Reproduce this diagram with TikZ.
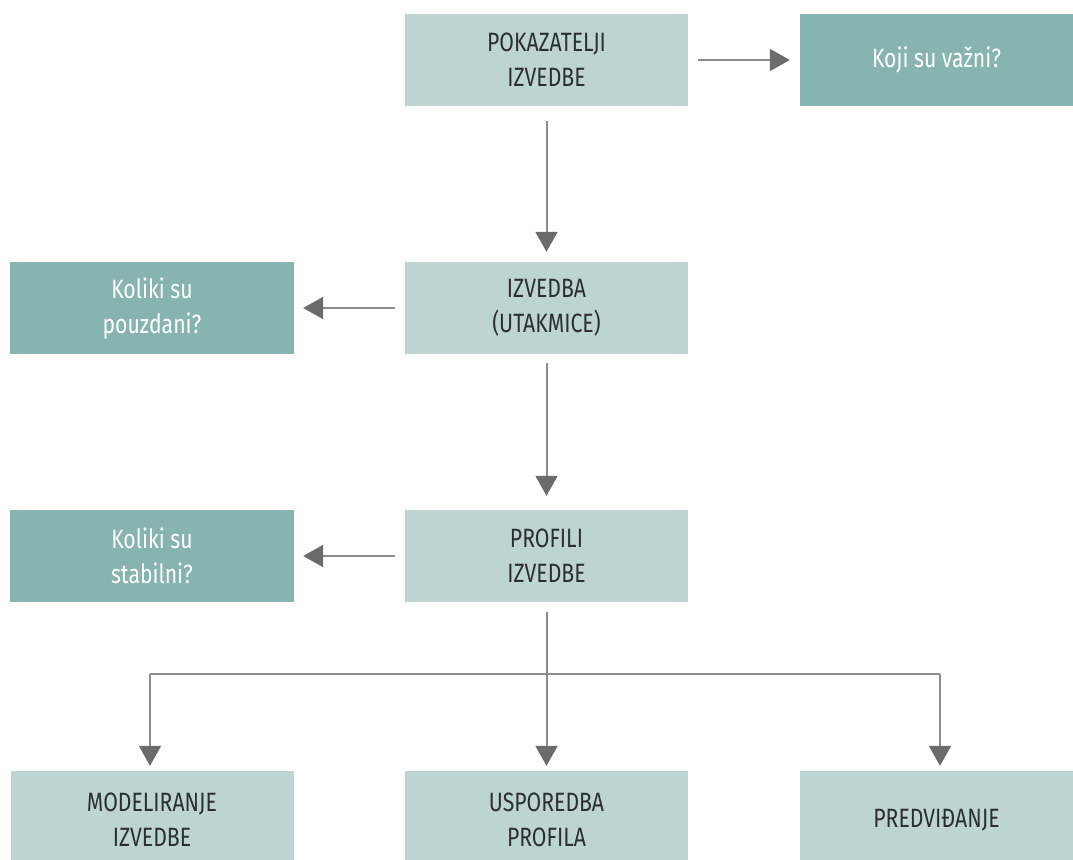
\documentclass[tikz,border=0pt]{standalone}
\usepackage{fontspec}
\setmainfont{Fira Sans}[FakeStretch=0.8]
\usetikzlibrary{arrows.meta}
\definecolor{lightbox}{HTML}{BCD5D2}
\definecolor{darkbox}{HTML}{87B3B1}
\definecolor{linegray}{HTML}{8C8C8C}
\definecolor{tipgray}{HTML}{6B6B6B}
\definecolor{txtdark}{HTML}{2E2E2E}
\begin{document}
\begin{tikzpicture}[x=1pt,y=-1pt,
  lbox/.style={fill=lightbox,draw=none,minimum width=283pt,minimum height=92pt,inner sep=0pt,align=center,text=txtdark,font=\fontsize{26.5}{35}\selectfont},
  dbox/.style={fill=darkbox,draw=none,minimum width=284pt,minimum height=92pt,inner sep=0pt,align=center,text=white,font=\fontsize{26.5}{35}\selectfont},
  ltext/.style={align=center,text=txtdark,font=\fontsize{26.5}{35}\selectfont},
  conn/.style={draw=linegray,line width=2pt,-{Triangle[width=22pt,length=20pt,color=tipgray]}},
  plain/.style={draw=linegray,line width=2pt}]
\useasboundingbox (0,0) rectangle (1073,859);
\fill[white] (0,0) rectangle (1073,859);
\node[lbox] (pk) at (546.5,60) {POKAZATELJI\\IZVEDBE};
\node[dbox,minimum width=273pt] (koji) at (936.5,60) {Koji su važni?};
\node[lbox] (iz) at (546.5,308) {IZVEDBA\\(UTAKMICE)};
\node[dbox] (pouz) at (152,308) {Koliki su\\pouzdani?};
\node[lbox] (pr) at (546.5,556) {PROFILI\\IZVEDBE};
\node[dbox] (stab) at (152,556) {Koliki su\\stabilni?};
\begin{scope}
\clip (0,0) rectangle (1073,859);
\node[lbox,minimum height=100pt] (mod) at (152,821) {};
\node[lbox,minimum height=100pt] (usp) at (546.5,821) {};
\node[lbox,minimum width=273pt,minimum height=100pt] (pre) at (936.5,821) {};
\end{scope}
\node[ltext] (modt) at (152,820) {MODELIRANJE\\IZVEDBE};
\node[ltext] (uspt) at (546.5,820) {USPOREDBA\\PROFILA};
\node[ltext] (pret) at (936.5,820) {PREDVIĐANJE};
\coordinate (split) at (546.5,674);
\coordinate (lft) at (150,674);
\coordinate (rgt) at (940,674);
\draw[conn] ([xshift=10pt]pk.east) -- ([xshift=-10pt]koji.west);
\draw[conn] ([yshift=-15pt]pk.south) -- ([yshift=10pt]iz.north);
\draw[conn] ([xshift=-10pt]iz.west) -- ([xshift=9pt]pouz.east);
\draw[conn] ([yshift=-9pt]iz.south) -- ([yshift=14pt]pr.north);
\draw[conn] ([xshift=-10pt]pr.west) -- ([xshift=9pt]stab.east);
\draw[plain] ([yshift=-10pt]pr.south) -- (split);
\draw[plain] (lft) -- (rgt);
\draw[conn] (lft) -- ([yshift=5pt]mod.north -| lft);
\draw[conn] (split) -- ([yshift=5pt]usp.north);
\draw[conn] (rgt) -- ([yshift=5pt]pre.north -| rgt);
\end{tikzpicture}
\end{document}
